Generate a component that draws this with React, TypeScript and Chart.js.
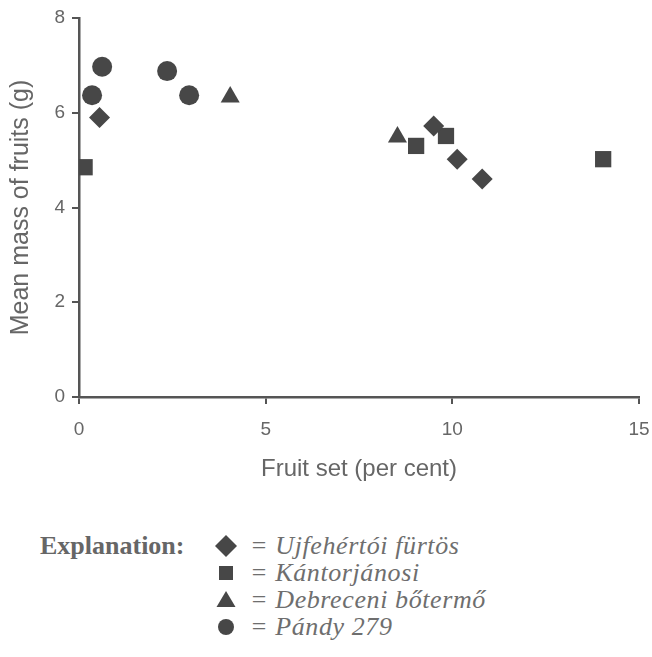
import React, { useEffect, useRef } from "react";
import { Chart, registerables } from "chart.js";

Chart.register(...registerables);

const seriesNames = ["Ujfehértói fürtös", "Kántorjánosi", "Debreceni bőtermő", "Pándy 279"];
const seriesStyles = ["rectRot", "rect", "triangle", "circle"];
const seriesRadius = [10.5, 11.5, 11, 10];

const ujfehX = [0.55, 9.5, 10.13, 10.8];
const ujfehY = [5.9, 5.72, 5.02, 4.6];
const kantorX = [0.15, 9.03, 9.83, 14.04];
const kantorY = [4.85, 5.3, 5.51, 5.02];
const debrX = [4.05, 8.53];
const debrY = [6.33, 5.49];
const pandyX = [0.62, 0.35, 2.36, 2.95];
const pandyY = [6.97, 6.37, 6.88, 6.37];

const xTicks = [0, 5, 10, 15];
const yTicks = [0, 2, 4, 6, 8];

const MARK = "#474747";
const AXIS = "#555555";
const TEXT = "#666666";

function pts(xs: number[], ys: number[]) {
  return xs.map((x, i) => ({ x, y: ys[i] }));
}

function Marker({ kind }: { kind: string }) {
  const s = 24;
  let shape: React.ReactNode = null;
  if (kind === "rectRot") shape = <polygon points="12,1 23,12 12,23 1,12" fill={MARK} />;
  else if (kind === "rect") shape = <rect x="5" y="5" width="14" height="14" fill={MARK} />;
  else if (kind === "triangle") shape = <polygon points="12,3 21.5,19 2.5,19" fill={MARK} />;
  else shape = <circle cx="12" cy="12" r="8" fill={MARK} />;
  return (
    <svg width={s} height={s} style={{ position: "absolute", left: 0, top: 2 }}>
      {shape}
    </svg>
  );
}

export default function App() {
  const ref = useRef<HTMLCanvasElement | null>(null);

  useEffect(() => {
    if (!ref.current) return;
    const all = [pts(ujfehX, ujfehY), pts(kantorX, kantorY), pts(debrX, debrY), pts(pandyX, pandyY)];
    const chart = new Chart(ref.current, {
      type: "scatter",
      data: {
        datasets: all.map((d, i) => ({
          label: seriesNames[i],
          data: d,
          pointStyle: seriesStyles[i] as any,
          pointRadius: seriesRadius[i],
          pointHoverRadius: seriesRadius[i],
          backgroundColor: MARK,
          borderColor: MARK,
          borderWidth: 0,
        })),
      },
      options: {
        animation: false,
        responsive: false,
        maintainAspectRatio: false,
        layout: { padding: { left: 0, right: 13, top: 18, bottom: 0 } },
        plugins: { legend: { display: false }, tooltip: { enabled: false } },
        scales: {
          x: {
            type: "linear",
            min: 0,
            max: 15,
            afterBuildTicks: (s: any) => {
              s.ticks = xTicks.map((v) => ({ value: v }));
            },
            afterFit: (s: any) => {
              s.height = 91;
              s.paddingRight = 0;
              s.paddingLeft = 0;
            },
            ticks: {
              color: TEXT,
              font: { family: "Liberation Sans, Arial", size: 19 },
              padding: 14,
            },
            grid: {
              display: true,
              drawOnChartArea: false,
              drawTicks: true,
              tickLength: 7,
              color: AXIS,
              lineWidth: 2,
            },
            border: { display: true, color: AXIS, width: 2.5 },
            title: {
              display: true,
              text: "Fruit set (per cent)",
              color: TEXT,
              font: { family: "Liberation Sans, Arial", size: 24 },
              padding: { top: 4, bottom: 4 },
            },
          },
          y: {
            type: "linear",
            min: 0,
            max: 8,
            afterBuildTicks: (s: any) => {
              s.ticks = yTicks.map((v) => ({ value: v }));
            },
            afterFit: (s: any) => {
              s.width = 79;
              s.paddingTop = 0;
              s.paddingBottom = 0;
            },
            ticks: {
              color: TEXT,
              font: { family: "Liberation Sans, Arial", size: 19 },
              padding: 7,
            },
            grid: {
              display: true,
              drawOnChartArea: false,
              drawTicks: true,
              tickLength: 7,
              color: AXIS,
              lineWidth: 2,
            },
            border: { display: true, color: AXIS, width: 2.5 },
            title: {
              display: true,
              text: "Mean mass of fruits (g)",
              color: TEXT,
              font: { family: "Liberation Sans, Arial", size: 25 },
              padding: { top: 6, bottom: 4 },
            },
          },
        },
      },
    });
    return () => chart.destroy();
  }, []);

  const rowTop = 532;
  const rowH = 27;

  return (
    <div style={{ position: "absolute", left: 0, top: 0, width: 652, height: 657, background: "#fff", overflow: "hidden" }}>
      <canvas ref={ref} width={652} height={488} style={{ position: "absolute", left: 0, top: 0, width: 652, height: 488 }} />
      <div
        style={{
          position: "absolute",
          left: 40,
          top: rowTop,
          fontFamily: "Liberation Serif, 'Times New Roman', serif",
          fontWeight: "bold",
          fontSize: 26,
          lineHeight: rowH + "px",
          color: TEXT,
        }}
      >
        Explanation:
      </div>
      {seriesNames.map((n, i) => (
        <div key={n} style={{ position: "absolute", left: 214, top: rowTop + i * rowH, height: rowH, width: 420 }}>
          <Marker kind={seriesStyles[i]} />
          <div
            style={{
              position: "absolute",
              left: 36,
              top: 0,
              whiteSpace: "nowrap",
              fontFamily: "Liberation Serif, 'Times New Roman', serif",
              fontStyle: "italic",
              fontSize: 26,
              letterSpacing: "0.6px",
              lineHeight: rowH + "px",
              color: "#6e6e6e",
            }}
          >
            = {n}
          </div>
        </div>
      ))}
    </div>
  );
}
